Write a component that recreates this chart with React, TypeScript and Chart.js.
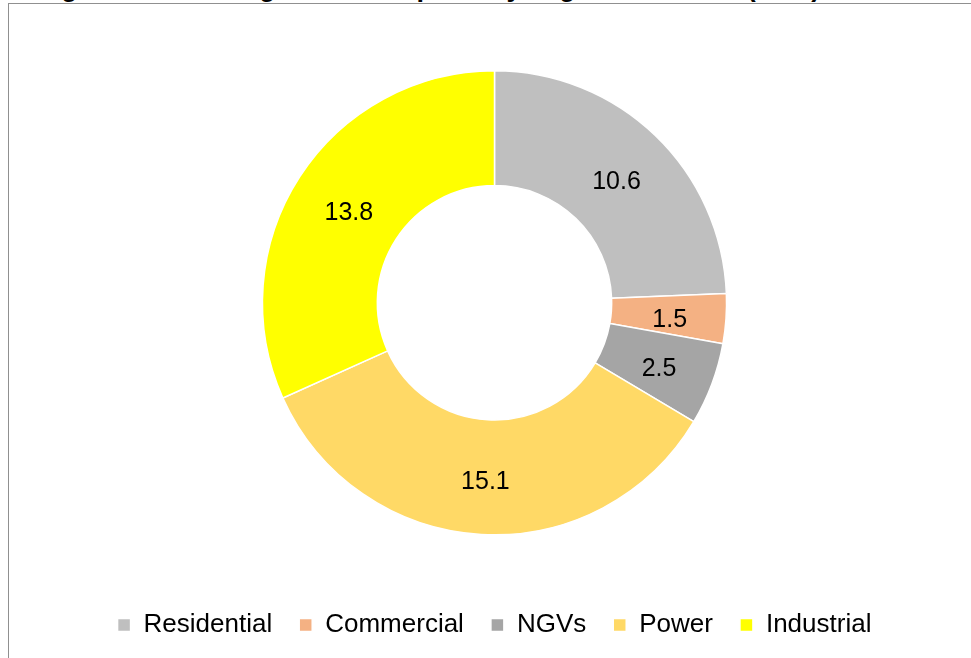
import React, { useEffect, useRef } from "react";
import { Chart, registerables } from "chart.js";

Chart.register(...registerables);

const categories = ["Residential", "Commercial", "NGVs", "Power", "Industrial"];
const values = [10.6, 1.5, 2.5, 15.1, 13.8];
const colors = ["#BFBFBF", "#F4B183", "#A5A5A5", "#FFD966", "#FFFF00"];
const titleText = "Figure 4: Natural gas consumption by segment in 2019 (bcm)";

const FONT = "'Liberation Sans', Arial, sans-serif";

const labelPlugin = {
  id: "sliceLabels",
  afterDatasetsDraw(chart: any) {
    const ctx = chart.ctx;
    const meta = chart.getDatasetMeta(0);
    ctx.save();
    ctx.font = `25px ${FONT}`;
    ctx.fillStyle = "#000000";
    ctx.textAlign = "center";
    ctx.textBaseline = "middle";
    meta.data.forEach((arc: any, i: number) => {
      const p = arc.tooltipPosition();
      ctx.fillText(values[i].toFixed(1), p.x + 1, p.y + 5);
    });
    ctx.restore();
  },
};

export default function App() {
  const ref = useRef<HTMLCanvasElement | null>(null);
  useEffect(() => {
    if (!ref.current) return;
    const chart = new Chart(ref.current, {
      type: "doughnut",
      data: {
        labels: categories,
        datasets: [
          {
            data: values,
            backgroundColor: colors,
            borderColor: "#FFFFFF",
            borderWidth: 1.5,
          },
        ],
      },
      options: {
        animation: false,
        responsive: false,
        cutout: "50.5%",
        layout: { padding: { top: 70, bottom: 10, left: 18, right: 0 } },
        plugins: {
          tooltip: { enabled: false },
          title: { display: false },
          legend: {
            display: true,
            position: "bottom",
            title: {
              display: true,
              text: "",
              font: { size: 2 },
              padding: { top: 47, bottom: 0 },
            },
            labels: {
              boxWidth: 13,
              boxHeight: 13,
              padding: 27,
              color: "#000000",
              font: { family: FONT, size: 26 },
            },
          },
        },
      },
      plugins: [labelPlugin],
    });
    return () => chart.destroy();
  }, []);

  return (
    <div
      style={{
        position: "fixed",
        left: 0,
        top: 0,
        width: 971,
        height: 658,
        background: "#FFFFFF",
        overflow: "hidden",
      }}
    >
      <div
        style={{
          position: "absolute",
          left: 37,
          top: -26,
          font: `bold 27px ${FONT}`,
          lineHeight: "27px",
          whiteSpace: "nowrap",
          color: "#000",
        }}
      >
        {titleText}
      </div>
      <div
        style={{
          position: "absolute",
          left: 8,
          top: 3,
          width: 1000,
          height: 700,
          border: "1px solid #909090",
          boxSizing: "border-box",
        }}
      />
      <canvas
        ref={ref}
        width={971}
        height={658}
        style={{ position: "absolute", left: 0, top: 0, width: 971, height: 658 }}
      />
    </div>
  );
}
